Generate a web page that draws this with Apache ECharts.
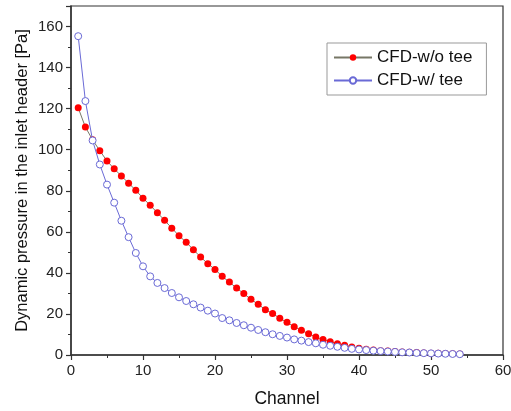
<!DOCTYPE html>
<html>
<head>
<meta charset="utf-8">
<script src="https://cdn.jsdelivr.net/npm/echarts@6/dist/echarts.min.js"></script>
<style>html,body{margin:0;padding:0;background:#fff;}#c{width:511px;height:411px;}</style>
</head>
<body>
<div id="c"></div>
<script>
var channels = [];
for (var i = 1; i <= 54; i++) channels.push(i);

var woTee = [120.4, 111.0, 104.8, 99.5, 94.5, 90.7, 87.2, 83.7, 80.2, 76.4,
  72.9, 69.3, 65.6, 61.8, 58.1, 54.9, 51.3, 47.7, 44.5, 41.7,
  38.3, 35.5, 32.6, 29.9, 27.1, 24.7, 22.1, 20.2, 17.9, 15.9,
  13.8, 12.0, 10.4, 8.8, 7.5, 6.5, 5.5, 4.7, 3.9, 3.3,
  2.8, 2.4, 2.1, 1.9, 1.7, 1.5, 1.3, 1.2, 1.0, 0.9,
  0.8, 0.7, 0.6, 0.5];

var wTee = [155.3, 123.7, 104.5, 92.8, 83.0, 74.2, 65.4, 57.4, 49.7, 43.2,
  38.3, 35.1, 32.6, 30.2, 28.1, 26.3, 24.7, 23.1, 21.6, 20.2,
  18.0, 16.9, 15.6, 14.5, 13.3, 12.2, 11.1, 10.1, 9.3, 8.5,
  7.6, 7.0, 6.3, 5.7, 5.0, 4.5, 4.0, 3.5, 3.0, 2.7,
  2.4, 2.1, 1.9, 1.7, 1.5, 1.3, 1.2, 1.0, 0.9, 0.8,
  0.7, 0.6, 0.5, 0.4];

var seriesNames = ['CFD-w/o tee', 'CFD-w/ tee'];
var xTitle = 'Channel';
var yTitle = 'Dynamic pressure in the inlet header [Pa]';

function pairs(xs, ys) { return ys.map(function (v, i) { return [xs[i], v]; }); }

var chart = echarts.init(document.getElementById('c'), null, {renderer: 'canvas'});
var font = 'Liberation Sans, Arial, sans-serif';
chart.setOption({
  animation: false,
  backgroundColor: '#fff',
  grid: {left: 71, top: 6, right: 8, bottom: 56, show: true, borderColor: '#333', borderWidth: 1.2,
    containLabel: false, outerBoundsMode: 'none'},
  legend: {
    left: 327, top: 43,
    orient: 'vertical',
    padding: [6, 14, 6, 6],
    itemGap: 6,
    itemWidth: 38, itemHeight: 8,
    borderColor: '#999', borderWidth: 1,
    textStyle: {fontFamily: font, fontSize: 17, color: '#111'},
    data: seriesNames
  },
  xAxis: {
    type: 'value', min: 0, max: 60, interval: 10,
    name: xTitle, nameLocation: 'middle', nameGap: 35, nameMoveOverlap: false,
    nameTextStyle: {fontFamily: font, fontSize: 17.5, color: '#111'},
    axisLine: {show: true, lineStyle: {color: '#333', width: 1.5}},
    axisTick: {show: true, length: 5, lineStyle: {color: '#333', width: 1.2}},
    minorTick: {show: true, splitNumber: 2, length: 3, lineStyle: {color: '#333'}},
    axisLabel: {fontFamily: font, fontSize: 15, color: '#222', margin: 8},
    splitLine: {show: false}
  },
  yAxis: {
    type: 'value', min: 0, max: 170, interval: 20,
    name: yTitle, nameLocation: 'middle', nameGap: 49, nameRotate: 90, nameMoveOverlap: false,
    nameTextStyle: {fontFamily: font, fontSize: 16.5, color: '#111', verticalAlign: 'middle'},
    axisLine: {show: true, lineStyle: {color: '#333', width: 1.5}},
    axisTick: {show: true, length: 5, lineStyle: {color: '#333', width: 1.2}},
    minorTick: {show: true, splitNumber: 2, length: 3, lineStyle: {color: '#333'}},
    axisLabel: {fontFamily: font, fontSize: 15, color: '#222', margin: 8,
      formatter: function (v) { return v > 160 ? '' : v; }},
    splitLine: {show: false}
  },
  series: [
    {
      name: seriesNames[0], type: 'line', data: pairs(channels, woTee),
      symbol: 'circle', symbolSize: 7,
      lineStyle: {color: '#777766', width: 1},
      itemStyle: {color: '#ff0000', borderColor: '#ff0000', borderWidth: 0},
      z: 2
    },
    {
      name: seriesNames[1], type: 'line', data: pairs(channels, wTee),
      symbol: 'circle', symbolSize: 7,
      lineStyle: {color: '#6a6ad6', width: 1},
      itemStyle: {color: '#ffffff', borderColor: '#6a6ad6', borderWidth: 1},
      z: 3
    }
  ]
});
</script>
</body>
</html>
